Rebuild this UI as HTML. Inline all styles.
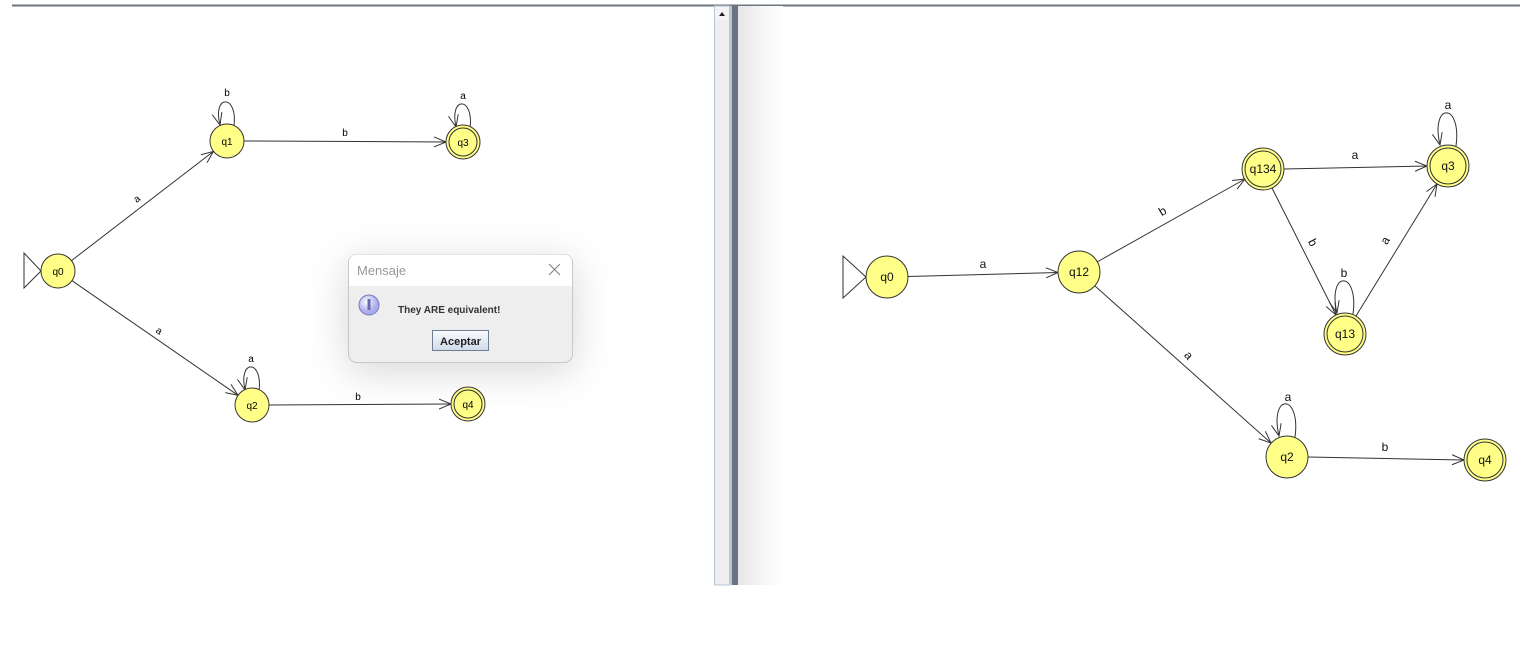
<!DOCTYPE html>
<html><head><meta charset="utf-8"><style>
html,body{margin:0;padding:0;background:#fff;}
body{width:1524px;height:648px;position:relative;overflow:hidden;font-family:"Liberation Sans",sans-serif;}
</style></head><body>
<svg width="1524" height="648" style="position:absolute;left:0;top:0">
<defs>
<marker id="ar" markerWidth="14" markerHeight="12" refX="13" refY="6" orient="auto" markerUnits="userSpaceOnUse">
<path d="M1,1 L13,6 L1,11" fill="none" stroke="#333" stroke-width="1"/></marker>
<linearGradient id="sh" x1="0" x2="1"><stop offset="0" stop-color="#e6e6e6"/><stop offset="0.5" stop-color="#f5f5f5"/><stop offset="1" stop-color="#fff"/></linearGradient>
<linearGradient id="btn" x1="0" y1="0" x2="0" y2="1"><stop offset="0" stop-color="#fbfcfe"/><stop offset="1" stop-color="#cfdbe8"/></linearGradient>
<radialGradient id="ico" cx="0.4" cy="0.35"><stop offset="0" stop-color="#fff"/><stop offset="1" stop-color="#aaaaee"/></radialGradient>
<filter id="ds" x="-50%" y="-80%" width="200%" height="280%"><feDropShadow dx="0" dy="8" stdDeviation="20" flood-color="#000" flood-opacity="0.16"/></filter>
</defs>
<!-- frame -->
<line x1="12" y1="5.5" x2="1520" y2="5.5" stroke="#6d7680" stroke-width="2"/>
<rect x="714.5" y="6" width="15" height="579" fill="#eeeeee" stroke="#b8c6d6" stroke-width="1"/>
<rect x="715" y="7" width="14" height="13" fill="#f4f4f4"/>
<path d="M719,16 L722,12 L725,16 Z" fill="#222"/>
<rect x="730" y="6" width="2" height="579" fill="#b8c6d6"/>
<rect x="732" y="6" width="6" height="579" fill="#6a7382"/>
<rect x="738" y="6" width="45" height="579" fill="url(#sh)"/>

<g font-family="Liberation Sans, sans-serif" fill="#000">
<!-- LEFT graph -->
<g stroke="#333" stroke-width="1" fill="none">
<path d="M24,253 L41,271 L24,288 Z"/>
<line x1="71.5" y1="260.6" x2="213.5" y2="151.4" marker-end="url(#ar)"/>
<line x1="244" y1="141" x2="446" y2="142" marker-end="url(#ar)"/>
<line x1="72" y1="280.7" x2="238" y2="395.3" marker-end="url(#ar)"/>
<line x1="269" y1="405" x2="451" y2="404" marker-end="url(#ar)"/>
<path d="M234,126 C238,94 212,94 220,125" marker-end="url(#ar)"/>
<path d="M470,128 C474,96 449,96 456,127" marker-end="url(#ar)"/>
<path d="M259,391 C263,359 238,359 245,390" marker-end="url(#ar)"/>
</g>
<g stroke="#333" stroke-width="1" fill="#ffff88">
<circle cx="58" cy="271" r="17"/><circle cx="227" cy="141" r="17"/>
<circle cx="252" cy="405" r="17"/>
<circle cx="463" cy="142" r="17"/><circle cx="463" cy="142" r="14"/>
<circle cx="468" cy="404" r="17"/><circle cx="468" cy="404" r="14"/>
</g>
<g font-size="10" text-anchor="middle">
<text x="58" y="275">q0</text><text x="227" y="145">q1</text><text x="252" y="409">q2</text>
<text x="463" y="146">q3</text><text x="468" y="408">q4</text>
<text x="227" y="96">b</text><text x="463" y="99">a</text><text x="251" y="362">a</text>
<text x="345" y="136">b</text><text x="358" y="400">b</text>
<text x="137" y="202" transform="rotate(-37 137 199)">a</text>
<text x="159" y="334" transform="rotate(35 159 331)">a</text>
</g>

<!-- RIGHT graph -->
<g stroke="#333" stroke-width="1" fill="none">
<path d="M843,256 L866,277 L843,298 Z"/>
<line x1="908" y1="276.5" x2="1058" y2="272.5" marker-end="url(#ar)"/>
<line x1="1097" y1="262" x2="1245" y2="179" marker-end="url(#ar)"/>
<line x1="1284" y1="169" x2="1427" y2="166" marker-end="url(#ar)"/>
<line x1="1272" y1="188" x2="1336" y2="315" marker-end="url(#ar)"/>
<line x1="1356" y1="316" x2="1437" y2="184" marker-end="url(#ar)"/>
<line x1="1095" y1="286" x2="1271" y2="443" marker-end="url(#ar)"/>
<line x1="1308" y1="457" x2="1464" y2="460" marker-end="url(#ar)"/>
<path d="M1456,146 C1462,102 1430,102 1440,145" marker-end="url(#ar)"/>
<path d="M1353,314 C1359,270 1327,270 1337,313" marker-end="url(#ar)"/>
<path d="M1295,437 C1301,393 1269,393 1279,436" marker-end="url(#ar)"/>
</g>
<g stroke="#333" stroke-width="1" fill="#ffff88">
<circle cx="887" cy="277" r="21"/><circle cx="1079" cy="272" r="21"/>
<circle cx="1287" cy="457" r="21"/>
<circle cx="1263" cy="169" r="21"/><circle cx="1263" cy="169" r="18"/>
<circle cx="1448" cy="166" r="21"/><circle cx="1448" cy="166" r="18"/>
<circle cx="1345" cy="334" r="21"/><circle cx="1345" cy="334" r="18"/>
<circle cx="1485" cy="460" r="21"/><circle cx="1485" cy="460" r="18"/>
</g>
<g font-size="12" text-anchor="middle" fill="#111">
<text x="887" y="281">q0</text><text x="1079" y="276">q12</text><text x="1287" y="461">q2</text>
<text x="1263" y="173">q134</text><text x="1448" y="170">q3</text><text x="1345" y="338">q13</text>
<text x="1485" y="464">q4</text>
<text x="983" y="268">a</text><text x="1355" y="159">a</text><text x="1385" y="451">b</text>
<text x="1448" y="109">a</text><text x="1344" y="277">b</text><text x="1288" y="401">a</text>
<text x="1163" y="215" transform="rotate(-30 1163 212)">b</text>
<text x="1312" y="246" transform="rotate(63 1312 243)">b</text>
<text x="1386" y="244" transform="rotate(-58 1386 241)">a</text>
<text x="1188" y="359" transform="rotate(48 1188 356)">a</text>
</g>
</g>

<!-- dialog -->
<g filter="url(#ds)">
<rect x="348.5" y="254.5" width="224" height="108" rx="8" fill="#eeeeee" stroke="#c8c8c8"/>
</g>
<path d="M349,286 V262 A7.5,7.5 0 0 1 356.5,254.5 H564.5 A7.5,7.5 0 0 1 572,262 V286 Z" fill="#fff"/>
<text x="357" y="275" font-size="13" fill="#999" font-family="Liberation Sans, sans-serif">Mensaje</text>
<path d="M549,264 L560,275 M560,264 L549,275" stroke="#888" stroke-width="1.2"/>
<circle cx="369" cy="305" r="10" fill="url(#ico)" stroke="#7777bb"/>
<rect x="367.5" y="299" width="3" height="11" fill="#6a6aa8"/>
<text x="398" y="313" font-size="10" font-weight="bold" fill="#333" font-family="Liberation Sans, sans-serif">They ARE equivalent!</text>
<rect x="432.5" y="330.5" width="56" height="20" fill="url(#btn)" stroke="#6d7f95"/>
<text x="460.5" y="345" font-size="11" font-weight="bold" text-anchor="middle" fill="#222" font-family="Liberation Sans, sans-serif">Aceptar</text>
</svg>
</body></html>
